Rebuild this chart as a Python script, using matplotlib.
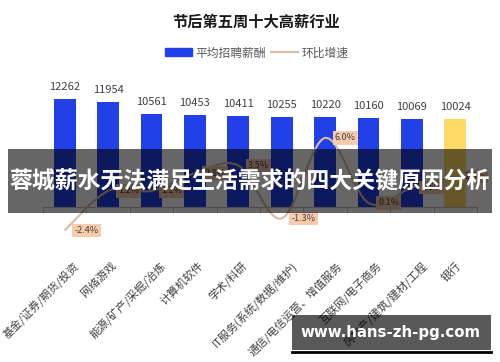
import matplotlib
matplotlib.use('Agg')
import matplotlib.pyplot as plt
import matplotlib.transforms as mtransforms
import numpy as np
from matplotlib.path import Path
from matplotlib.patches import PathPatch, Rectangle, Patch
from matplotlib.lines import Line2D

plt.rcParams['font.family'] = ['Noto Sans CJK SC', 'DejaVu Sans']

# data
industries = ['基金/证券/期货/投资', '网络游戏', '能源/矿产/采掘/冶炼', '计算机软件', '学术/科研',
              'IT服务(系统/数据/维护)', '通信/电信运营、增值服务', '互联网/电子商务',
              '房地产/建筑/建材/工程', '银行']
salary = [12262, 11954, 10561, 10453, 10411, 10255, 10220, 10160, 10069, 10024]
growth = [-2.4, 1.2, 1.2, 2.8, 3.5, -1.3, 6.0, 0.1, 1.5, 2.5]

blue = '#2140E8'
peach_line = '#DDBB9E'

fig = plt.figure(figsize=(5, 3.62), dpi=100)
ax = fig.add_axes([0.086, 0.428, 0.868, 0.34])
ax.patch.set_alpha(0)
x = np.arange(len(industries))
colors = [blue] * 9 + ['#FFD966']
ax.bar(x, salary, width=0.5, color=colors)
for xi, v in zip(x, salary):
    ax.annotate(f'{v}', (xi, v), xytext=(0, 5), textcoords='offset points',
                ha='center', va='bottom', fontsize=8, color='#404040')
ax.set_xlim(-0.5, 9.5)
ax.set_ylim(0, 14000)
for s in ['top', 'right', 'left']:
    ax.spines[s].set_visible(False)
ax.spines['bottom'].set_color('#BFBFBF')
ax.set_yticks([])
ax.set_xticks(x)
ax.set_xticklabels(industries, rotation=45, ha='right', va='top',
                   rotation_mode='anchor', fontsize=8, color='#404040')
ax.set_xticks(np.arange(-0.5, 10, 1), minor=True)
ax.tick_params(axis='x', which='major', length=0, pad=38)
ax.tick_params(axis='x', which='minor', length=4, color='#BFBFBF')

# longer rotated labels sit a little further right, as in the source chart
fig.canvas.draw()
for lab in ax.get_xticklabels():
    w = lab.get_window_extent().width
    dx = (0.14 * w - 3) / 100
    lab.set_transform(lab.get_transform() +
                      mtransforms.ScaledTranslation(dx, 0, fig.dpi_scale_trans))

# secondary axis: smoothed growth line
ax2 = ax.twinx()
ax2.set_ylim(-0.27, 10.9)
ax2.axis('off')
pts = np.column_stack([x, growth]).astype(float)
n = len(pts)
verts = [pts[0]]
codes = [Path.MOVETO]
for i in range(n - 1):
    p0 = pts[max(i - 1, 0)]
    p1 = pts[i]
    p2 = pts[i + 1]
    p3 = pts[min(i + 2, n - 1)]
    verts += [p1 + (p2 - p0) / 6, p2 - (p3 - p1) / 6, p2]
    codes += [Path.CURVE4] * 3
ax2.add_patch(PathPatch(Path(verts, codes), fill=False, edgecolor=peach_line,
                        lw=1.5, clip_on=False))
for xi, g in zip(x, growth):
    ax2.annotate(f'{g:.1f}%', (xi, g), xytext=(7, 0), textcoords='offset points',
                 ha='left', va='center', fontsize=6.5, color='#404040',
                 bbox=dict(boxstyle='square,pad=0.25', fc='#F8CBAD', ec='none'),
                 annotation_clip=False)

# title and legend
fig.text(0.512, 0.939, '节后第五周十大高薪行业', ha='center', va='center',
         fontsize=11, weight='bold', color='#1a1a1a')
handles = [Patch(color=blue), Line2D([], [], color=peach_line, lw=1.5)]
fig.legend(handles, ['平均招聘薪酬', '环比增速'], loc='center',
           bbox_to_anchor=(0.513, 0.854), ncol=2, frameon=False, fontsize=8.5,
           handlelength=2.3, handleheight=0.6, columnspacing=0.4,
           handletextpad=0.3, labelcolor='#595959')

# overlay banner
fig.add_artist(Rectangle((8 / 500, 1 - 213 / 362), 484 / 500, 64 / 362,
                         transform=fig.transFigure, fc='black', alpha=0.6,
                         ec='none', zorder=10))
fig.text(0.5, 1 - 182 / 362, '蓉城薪水无法满足生活需求的四大关键原因分析',
         ha='center', va='center', fontsize=16.5, weight='bold', color='white',
         zorder=11)

# watermark
fig.add_artist(Rectangle((292 / 500, 1 - 350 / 362), 199 / 500, 35 / 362,
                         transform=fig.transFigure, fc='black', alpha=0.65,
                         ec='none', zorder=10))
fig.add_artist(Line2D([292 / 500, 491 / 500], [1 - 351.5 / 362] * 2,
                      transform=fig.transFigure, color='black', lw=2, zorder=10))
fig.text(391 / 500, 1 - 333 / 362, 'www.hans-zh-pg.com', ha='center', va='center',
         family='DejaVu Sans', fontsize=10.8, weight='bold', color='white', zorder=11)

fig.savefig('out.png', dpi=100)
